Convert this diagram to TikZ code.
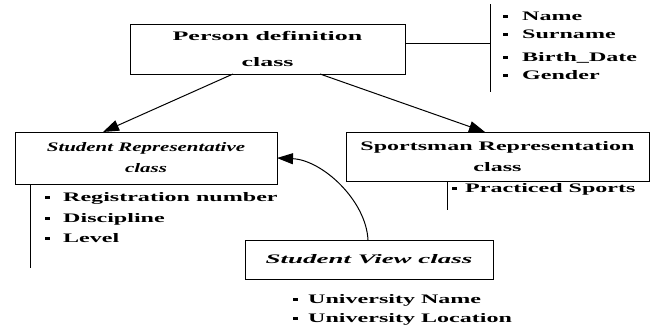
\documentclass[tikz,border=0pt]{standalone}
\usepackage{graphicx}
\usepackage{fontspec}
\setmainfont{Liberation Serif}[FakeStretch=1.85]
\usetikzlibrary{arrows.meta}

% small square bullet followed by a gap
\newcommand{\bul}[1]{\rule[2pt]{5pt}{3pt}\hspace{#1}}
% horizontally widened or narrowed text
\newcommand{\wide}[2]{\scalebox{#1}[1]{#2}}

\tikzset{
  box/.style={draw, line width=1pt, inner sep=0pt, outer sep=0pt, align=center},
  twoline/.style={font=\fontsize{13}{21}\selectfont\bfseries},
  item/.style={anchor=base west, inner sep=0pt, font=\fontsize{13}{15}\selectfont\bfseries},
  link/.style={line width=1pt},
  tip/.style={-{Triangle[length=16pt,width=11pt]}}
}

\begin{document}
\begin{tikzpicture}[x=1pt, y=-1pt]
\useasboundingbox (0,0) rectangle (656,332);

% class boxes
\node[box, minimum width=275pt, minimum height=50pt,
      font=\fontsize{13}{26}\selectfont\bfseries]
  (person) at (267.5,49) {\wide{1.08}{Person definition}\\\wide{1.08}{class}};
\node[box, twoline, minimum width=262pt, minimum height=52pt]
  (srep) at (146,158) {\wide{0.87}{\itshape Student Representative}\\\wide{0.87}{\itshape class}};
\node[box, twoline, minimum width=303pt, minimum height=49pt]
  (sport) at (497.5,156.5) {Sportsman Representation\\class};
\node[box, twoline, minimum width=248pt, minimum height=39pt]
  (sview) at (369,259.5) {\wide{1.12}{\itshape Student View class}};

% attribute lists
\node[item] (pa1) at (503,20) {\bul{14pt}Name};
\node[item] (pa2) at (503,38) {\bul{14pt}Surname};
\node[item] (pa3) at (503,61) {\bul{14pt}Birth\_Date};
\node[item] (pa4) at (503,79) {\bul{14pt}Gender};

\node[item] (ra1) at (45,201) {\bul{13pt}Registration number};
\node[item] (ra2) at (45,222) {\bul{13pt}Discipline};
\node[item] (ra3) at (45,242) {\bul{13pt}Level};

\node[item] (sa1) at (452,192) {\bul{8pt}Practiced Sports};

\node[item] (va1) at (293,303) {\bul{10pt}University Name};
\node[item] (va2) at (293,322) {\bul{10pt}University Location};

% bracket lines for the attribute lists
\coordinate (pjoin) at (490,43);
\coordinate (ptop) at (490,4);
\coordinate (pbot) at (490,92);
\coordinate (rend) at (30,268);
\coordinate (send) at (447,210);

\draw[link] (ptop) -- (pbot);
\draw[link] ([yshift=6pt]person.east) -- (pjoin);
\draw[link] ([xshift=15pt]srep.south west) -- (rend);
\draw[link] ([xshift=101pt]sport.south west) -- (send);

% inheritance arrows
\draw[link, tip] ([xshift=103pt]person.south west) -- ([xshift=88pt]srep.north west);
\draw[link, tip] ([xshift=190pt]person.south west) -- ([xshift=139pt]sport.north west);
\draw[link, tip] ([xshift=123pt]sview.north west)
  .. controls +(-2,-40) and +(45,2) .. (srep.east);
\end{tikzpicture}
\end{document}
